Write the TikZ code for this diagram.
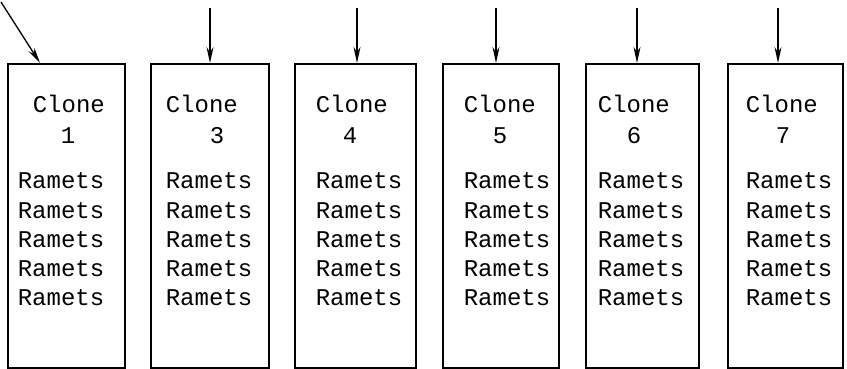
\documentclass[tikz,border=0pt]{standalone}
\usepackage{fontspec}
\setmonofont{Liberation Mono}
\usetikzlibrary{arrows.meta}

\tikzstyle{clonebox}=[draw, rectangle, anchor=north west, inner sep=0pt,
                      minimum height=304pt]
\tikzstyle{clonetxt}=[inner sep=0pt, font=\ttfamily\fontsize{24}{29.3}\selectfont]
\tikzstyle{rametstxt}=[clonetxt, align=left, anchor=north west]
\tikzstyle{feed}=[-{Stealth[length=16pt,width=7pt]}, line width=1.3pt]

\begin{document}
\begin{tikzpicture}[x=1pt,y=-1pt,line width=1.6pt]
  \useasboundingbox (0,0) rectangle (847,369);
  \node[clonebox, minimum width=117pt] (c1) at (7,63) {};
  \node[clonebox, minimum width=118pt] (c3) at (150,63) {};
  \node[clonebox, minimum width=121pt] (c4) at (294,63) {};
  \node[clonebox, minimum width=116pt] (c5) at (442,63) {};
  \node[clonebox, minimum width=113pt] (c6) at (585,63) {};
  \node[clonebox, minimum width=115pt] (c7) at (727,63) {};

  \node[clonetxt, anchor=base west] (n1) at (32,113) {Clone};
  \node[clonetxt, anchor=base] (k1) at (68,143) {1};
  \node[rametstxt] (r1) at (17,172) {Ramets\\Ramets\\Ramets\\Ramets\\Ramets};
  \node[clonetxt, anchor=base west] (n3) at (165,113) {Clone};
  \node[clonetxt, anchor=base] (k3) at (217,143) {3};
  \node[rametstxt] (r3) at (165,172) {Ramets\\Ramets\\Ramets\\Ramets\\Ramets};
  \node[clonetxt, anchor=base west] (n4) at (315,113) {Clone};
  \node[clonetxt, anchor=base] (k4) at (350,143) {4};
  \node[rametstxt] (r4) at (315,172) {Ramets\\Ramets\\Ramets\\Ramets\\Ramets};
  \node[clonetxt, anchor=base west] (n5) at (463,113) {Clone};
  \node[clonetxt, anchor=base] (k5) at (500,143) {5};
  \node[rametstxt] (r5) at (463,172) {Ramets\\Ramets\\Ramets\\Ramets\\Ramets};
  \node[clonetxt, anchor=base west] (n6) at (597,113) {Clone};
  \node[clonetxt, anchor=base] (k6) at (634,143) {6};
  \node[rametstxt] (r6) at (597,172) {Ramets\\Ramets\\Ramets\\Ramets\\Ramets};
  \node[clonetxt, anchor=base west] (n7) at (745,113) {Clone};
  \node[clonetxt, anchor=base] (k7) at (783,143) {7};
  \node[rametstxt] (r7) at (745,172) {Ramets\\Ramets\\Ramets\\Ramets\\Ramets};

  \coordinate (in1) at (1,2);
  \coordinate (in3) at (210,8);
  \coordinate (in4) at (357,8);
  \coordinate (in5) at (496,8);
  \coordinate (in6) at (637,8);
  \coordinate (in7) at (778,8);
  \draw[feed] (in1) -- ([xshift=33pt]c1.north west);
  \draw[feed] (in3) -- (in3 |- c3.north);
  \draw[feed] (in4) -- (in4 |- c4.north);
  \draw[feed] (in5) -- (in5 |- c5.north);
  \draw[feed] (in6) -- (in6 |- c6.north);
  \draw[feed] (in7) -- (in7 |- c7.north);
\end{tikzpicture}
\end{document}
